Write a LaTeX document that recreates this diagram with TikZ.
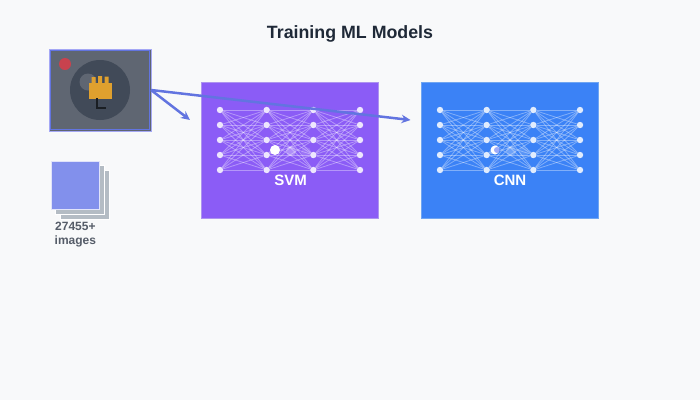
\documentclass[tikz,border=0pt]{standalone}
\usepackage{fontspec}
\setmainfont{Liberation Sans}
\usetikzlibrary{arrows.meta}
\definecolor{pagebg}{HTML}{F8F9FA}
\definecolor{titleink}{HTML}{1F2937}
\definecolor{labelink}{HTML}{555C68}
\definecolor{svmfill}{HTML}{8B5CF6}
\definecolor{svmedge}{HTML}{AD93F0}
\definecolor{cnnfill}{HTML}{3B82F6}
\definecolor{cnnedge}{HTML}{6FA5F2}
\definecolor{arrowink}{HTML}{6274E0}
\definecolor{thumbfill}{HTML}{5F6672}
\definecolor{thumbdisc}{HTML}{414A58}
\definecolor{thumbedge}{HTML}{A5A8F5}
\definecolor{stackfront}{HTML}{8290EC}
\definecolor{stackback}{HTML}{B4BCC4}
\definecolor{glove}{HTML}{DFA02E}
\definecolor{blob}{HTML}{C8424E}
\tikzset{
  x=1pt,y=-1pt,
  modelbox/.style={draw=#1,line width=1pt,minimum width=176.5pt,minimum height=136pt,inner sep=0pt,anchor=north west},
  neuron/.style={circle,fill=white,fill opacity=.85,minimum size=6.4pt,inner sep=0pt},
  synapse/.style={draw=white,opacity=.36,line width=.8pt},
  modellabel/.style={text=white,font=\bfseries\fontsize{15}{18}\selectfont,inner sep=0pt},
  flow/.style={draw=arrowink,line width=2.5pt,-{Stealth[length=9pt,width=8.5pt]}},
  stacksheet/.style={draw=white,line width=1pt,minimum width=49pt,minimum height=49pt,inner sep=0pt,anchor=north west},
}
\begin{document}
\begin{tikzpicture}
\useasboundingbox[fill=pagebg] (0,0) rectangle (700,400);
\node[text=titleink,font=\bfseries\fontsize{17.8}{22}\selectfont,inner sep=0pt] (title) at (350,34) {Training ML Models};
% thumbnail
\node[draw=thumbedge,fill=thumbfill,line width=1.8pt,minimum width=102pt,minimum height=82pt,inner sep=0pt,anchor=north west] (thumb) at (48.5,48.5) {};
\draw[arrowink,line width=.8pt] (50.8,50.8) rectangle (149.2,129.2);
\fill[thumbdisc] (100,90) circle (30);
\fill[thumbfill] (88,82) circle (8.5);
\fill[glove] (89,83) rectangle (112,98.5);
\fill[glove] (91.5,77) rectangle (95.5,84) (98,76) rectangle (102,84) (104.5,76.5) rectangle (108.5,84);
\draw[thumbdisc!40!black,line width=1.4pt] (97,98) -- (97,108) -- (106,108);
\fill[blob] (65,64) circle (6);
% stack
\node[stacksheet,fill=stackback] (sheetc) at (60,170) {};
\node[stacksheet,fill=stackback] (sheetb) at (55,165) {};
\node[draw=white!75!stackfront,fill=stackfront,line width=1pt,minimum width=48.5pt,minimum height=48.5pt,inner sep=0pt,anchor=north west] (sheeta) at (50.5,160.5) {};
\node[text=labelink,font=\bfseries\fontsize{12}{15}\selectfont,inner sep=0pt,anchor=west] (count) at (55,226) {27455+};
\node[text=labelink,font=\bfseries\fontsize{12}{15}\selectfont,inner sep=0pt,anchor=west] (countb) at (54.5,241.5) {images};
% model boxes
\node[modelbox=svmedge,fill=svmfill] (svm) at (201.2,81.7) {};
\node[modelbox=cnnedge,fill=cnnfill] (cnn) at (421.2,81.7) {};
% networks
\foreach \net/\ox in {svm/220,cnn/440}{
  \foreach \c in {1,2,3,4}{
    \foreach \r in {1,...,5}{
      \node[neuron] (\net-\c-\r) at ({\ox+(\c-1)*46.67},{95+\r*15}) {};
    }
  }
  \foreach \c/\d in {1/2,2/3,3/4}{
    \foreach \r in {1,...,5}{
      \foreach \s in {1,...,5}{
        \draw[synapse] (\net-\c-\r) -- (\net-\d-\s);
      }
    }
  }
}
% travelling dots
\fill[white] (275,150) circle (5);
\fill[white,opacity=.3] (291,151) circle (5);
\fill[white,opacity=.15] (306,152) circle (5);
\fill[white] (495,150) circle (4.5);
\fill[cnnfill!60!svmfill,opacity=.6] (497,150) circle (3);
\fill[white,opacity=.25] (511,151) circle (5);
\fill[white,opacity=.15] (524,152) circle (5);
\node[modellabel] (svmlabel) at (290.5,180) {SVM};
\node[modellabel] (cnnlabel) at (510,180) {CNN};
% connectors
\coordinate (svmin) at (190,120);
\coordinate (cnnin) at (410.5,120);
\coordinate (thumbout) at (151,90);
\draw[flow] (thumbout) -- (svmin);
\draw[flow] (thumbout) -- (cnnin);
\end{tikzpicture}
\end{document}
